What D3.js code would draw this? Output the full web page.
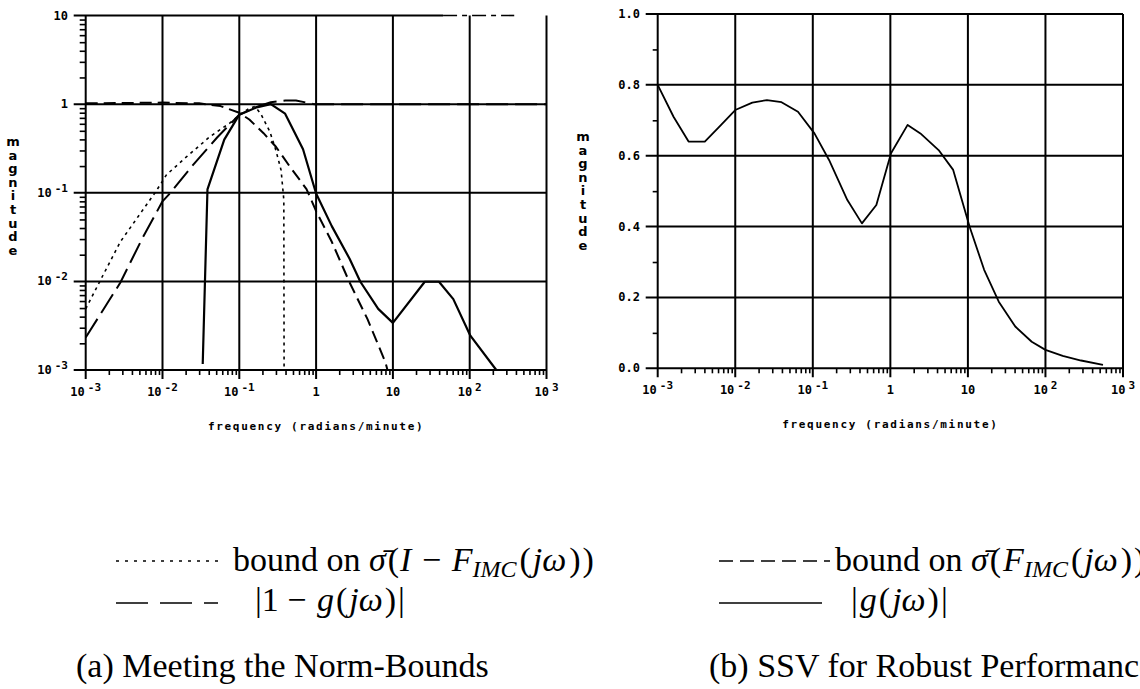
<!DOCTYPE html>
<html>
<head>
<meta charset="utf-8">
<script src="https://cdn.jsdelivr.net/npm/d3@7"></script>
<style>
  html, body { margin: 0; padding: 0; background: #fff; }
  svg { display: block; }
</style>
</head>
<body>
<svg id="fig" width="1140" height="689"></svg>
<script>
// ---------------- data ----------------
const freqDecades = [1e-3, 1e-2, 1e-1, 1, 10, 100, 1000];
const freqExponents = [-3, -2, -1, 0, 1, 2, 3];
const magDecades = [1e-3, 1e-2, 1e-1, 1, 10];
const magExponents = [-3, -2, -1, 0, 1];
const ssvTicks = [0, 0.2, 0.4, 0.6, 0.8, 1.0];
const ssvTickLabels = ["0.0", "0.2", "0.4", "0.6", "0.8", "1.0"];
const ssvMinorTicks = [0.1, 0.3, 0.5, 0.7, 0.9];

// (a) bound on sigma-bar(I - F_IMC)  -- dotted
const boundIF_freq = [0.001, 0.00166, 0.00283, 0.0054, 0.008, 0.0113, 0.0206, 0.0415, 0.075, 0.102, 0.13, 0.16, 0.19, 0.226, 0.25, 0.30, 0.35, 0.38, 0.383];
const boundIF_mag  = [0.0049, 0.0115, 0.028, 0.062, 0.10, 0.16, 0.255, 0.43, 0.61, 0.76, 0.88, 0.94, 0.78, 0.58, 0.49, 0.30, 0.18, 0.083, 0.001];

// (a) |1 - g(jw)|  -- long dashes
const oneMinusG_freq = [0.001, 0.00283, 0.0054, 0.01, 0.0127, 0.0243, 0.0514, 0.1, 0.168, 0.257, 0.4, 0.546, 0.93, 1000];
const oneMinusG_mag  = [0.00233, 0.0097, 0.03, 0.08, 0.1, 0.2, 0.42, 0.76, 0.93, 1.05, 1.1, 1.1, 1.0, 1.0];

// (a) bound on sigma-bar(F_IMC)  -- dashes
const boundF_freq = [0.001, 0.003, 0.01, 0.03, 0.057, 0.1, 0.135, 0.207, 0.30, 0.45, 0.75, 1.0, 1.6, 2.73, 4.67, 8.0, 8.5];
const boundF_mag  = [1.02, 1.03, 1.04, 1.02, 0.95, 0.8, 0.67, 0.47, 0.33, 0.2, 0.11, 0.062, 0.028, 0.0097, 0.00375, 0.00122, 0.001];

// (a) |g(jw)|  -- solid
const g_freq = [0.0334, 0.0385, 0.0637, 0.1, 0.168, 0.257, 0.395, 0.676, 1.0, 1.6, 2.73, 3.77, 6.44, 10, 26, 39.8, 61.2, 102, 222];
const g_mag  = [0.00117, 0.109, 0.398, 0.76, 0.92, 1.0, 0.78, 0.31, 0.098, 0.042, 0.018, 0.0099, 0.0049, 0.0034, 0.0099, 0.0099, 0.0063, 0.00244, 0.001];

// (a) upper rule at 10: solid part and broken part
const topRuleSolid = [1e-3, 45];
const topRuleBroken = [45, 380];

// (b) SSV for robust performance
const ssv_freq = [0.001, 0.0016, 0.0025, 0.00405, 0.00625, 0.01, 0.0166, 0.0256, 0.0395, 0.0644, 0.105, 0.162, 0.279, 0.43, 0.66, 1.02, 1.67, 2.44, 4.19, 6.46, 10.5, 16.2, 25, 40.8, 66.5, 100, 167, 288, 552];
const ssv_mag  = [0.80, 0.71, 0.64, 0.64, 0.682, 0.729, 0.75, 0.757, 0.751, 0.724, 0.663, 0.588, 0.475, 0.409, 0.461, 0.607, 0.687, 0.663, 0.616, 0.56, 0.40, 0.278, 0.188, 0.118, 0.075, 0.052, 0.035, 0.022, 0.0094];

// ---------------- layout ----------------
const svg = d3.select("#fig");
const plotFont = "'DejaVu Sans Mono', monospace";
const serif = "'Liberation Serif', 'DejaVu Serif', serif";

const A = {
  x: d3.scaleLog().domain([1e-3, 1e3]).range([85.7, 546.5]),
  y: d3.scaleLog().domain([1e-3, 10]).range([370, 15.5])
};
const B = {
  x: d3.scaleLog().domain([1e-3, 1e3]).range([657.7, 1123]),
  y: d3.scaleLinear().domain([0, 1]).range([368.3, 14])
};

const minorFreq = [];
for (let e = -3; e < 3; e++) for (let k = 2; k <= 9; k++) minorFreq.push(k * Math.pow(10, e));
const minorMag = [];
for (let e = -3; e < 1; e++) for (let k = 2; k <= 9; k++) minorMag.push(k * Math.pow(10, e));

function powerLabel(sel, exp, anchor) {
  const t = sel.attr("text-anchor", anchor);
  if (exp === 0) { t.append("tspan").text("1"); return; }
  if (exp === 1) { t.append("tspan").text("10"); return; }
  t.append("tspan").text("10");
  t.append("tspan").attr("dx", 3).attr("dy", -5).attr("font-size", 11).text(exp < 0 ? "-" + (-exp) : String(exp));
}

function freqAxis(g, P, yBottom, yTop) {
  // decade grid verticals (extend below axis as major ticks)
  g.append("g").selectAll("line").data(freqDecades).join("line")
    .attr("x1", d => P.x(d)).attr("x2", d => P.x(d))
    .attr("y1", yTop).attr("y2", yBottom + 9)
    .attr("stroke", "#000").attr("stroke-width", 2);
  // minor ticks under the axis
  const minor = g.append("g").attr("transform", `translate(0,${yBottom})`)
    .call(d3.axisBottom(P.x).tickValues(minorFreq).tickSize(5).tickFormat(""));
  minor.select(".domain").remove();
  minor.selectAll(".tick line").attr("stroke", "#000").attr("stroke-width", 1.6);
  // labels
  g.append("g").selectAll("text").data(freqDecades).join("text")
    .attr("x", d => P.x(d)).attr("y", yBottom + 26)
    .attr("font-family", plotFont).attr("font-weight", "bold").attr("font-size", 12)
    .each(function(d, i) { powerLabel(d3.select(this), freqExponents[i], "middle"); });
  // title
  const xMid = (P.x.range()[0] + P.x.range()[1]) / 2;
  g.append("text").attr("x", xMid).attr("y", yBottom + 60)
    .attr("text-anchor", "middle").attr("font-family", plotFont).attr("font-weight", "bold")
    .attr("font-size", 11).attr("letter-spacing", 1.7)
    .text("frequency (radians/minute)");
}

function stackedLabel(g, x, yStart, word) {
  g.append("g").selectAll("text").data(word.split("")).join("text")
    .attr("x", x).attr("y", (d, i) => yStart + i * 13.6)
    .attr("text-anchor", "middle").attr("font-family", "'DejaVu Sans', sans-serif")
    .attr("font-weight", "bold").attr("font-size", 13).text(d => d);
}

// ---------------- panel (a) ----------------
const ga = svg.append("g");
const ax0 = A.x.range()[0], ax1 = A.x.range()[1];
// horizontal decade grid (rule at 10 handled separately)
ga.append("g").selectAll("line").data(magDecades.filter(d => d < 10)).join("line")
  .attr("x1", ax0 - 12).attr("x2", ax1)
  .attr("y1", d => A.y(d)).attr("y2", d => A.y(d))
  .attr("stroke", "#000").attr("stroke-width", 2);
ga.append("line").attr("x1", ax0 - 12).attr("x2", A.x(topRuleSolid[1]))
  .attr("y1", A.y(10)).attr("y2", A.y(10)).attr("stroke", "#000").attr("stroke-width", 2);
ga.append("line").attr("x1", A.x(topRuleBroken[0])).attr("x2", A.x(topRuleBroken[1]))
  .attr("y1", A.y(10)).attr("y2", A.y(10)).attr("stroke", "#000").attr("stroke-width", 1.6)
  .attr("stroke-dasharray", "14,5,5,5");
freqAxis(ga, A, A.y(1e-3), A.y(10));
const aMinor = ga.append("g").attr("transform", `translate(${ax0},0)`)
  .call(d3.axisLeft(A.y).tickValues(minorMag).tickSize(6).tickFormat(""));
aMinor.select(".domain").remove();
aMinor.selectAll(".tick line").attr("stroke", "#000").attr("stroke-width", 1.6);
ga.append("g").selectAll("text").data(magDecades).join("text")
  .attr("x", 68).attr("y", d => A.y(d) + 4)
  .attr("font-family", plotFont).attr("font-weight", "bold").attr("font-size", 12)
  .each(function(d, i) { powerLabel(d3.select(this), magExponents[i], "end"); });
stackedLabel(ga, 13, 146, "magnitude");

const lineA = (fs, ms) => d3.line().x((d, i) => A.x(fs[i])).y((d, i) => A.y(ms[i]))(fs);
const curvesA = ga.append("g").attr("fill", "none").attr("stroke", "#000")
  .attr("stroke-linejoin", "round");
curvesA.append("path").attr("d", lineA(boundIF_freq, boundIF_mag))
  .attr("stroke-width", 1.6).attr("stroke-dasharray", "3,4");
curvesA.append("path").attr("d", lineA(oneMinusG_freq, oneMinusG_mag))
  .attr("stroke-width", 2).attr("stroke-dasharray", "22,7");
curvesA.append("path").attr("d", lineA(boundF_freq, boundF_mag))
  .attr("stroke-width", 2).attr("stroke-dasharray", "12,6");
curvesA.append("path").attr("d", lineA(g_freq, g_mag))
  .attr("stroke-width", 2.2);

// ---------------- panel (b) ----------------
const gb = svg.append("g");
const bx0 = B.x.range()[0], bx1 = B.x.range()[1];
gb.append("g").selectAll("line").data(ssvTicks).join("line")
  .attr("x1", bx0 - 12).attr("x2", bx1)
  .attr("y1", d => B.y(d)).attr("y2", d => B.y(d))
  .attr("stroke", "#000").attr("stroke-width", 2);
freqAxis(gb, B, B.y(0), B.y(1));
const bMinor = gb.append("g").attr("transform", `translate(${bx0},0)`)
  .call(d3.axisLeft(B.y).tickValues(ssvMinorTicks).tickSize(5).tickFormat(""));
bMinor.select(".domain").remove();
bMinor.selectAll(".tick line").attr("stroke", "#000").attr("stroke-width", 1.6);
gb.append("g").selectAll("text").data(ssvTicks).join("text")
  .attr("x", 640).attr("y", d => B.y(d) + 4)
  .attr("text-anchor", "end").attr("font-family", plotFont).attr("font-weight", "bold")
  .attr("font-size", 12).text((d, i) => ssvTickLabels[i]);
stackedLabel(gb, 583, 141, "magnitude");

gb.append("path")
  .attr("d", d3.line().x((d, i) => B.x(ssv_freq[i])).y((d, i) => B.y(ssv_mag[i]))(ssv_freq))
  .attr("fill", "none").attr("stroke", "#000").attr("stroke-width", 1.8)
  .attr("stroke-linejoin", "round");

// ---------------- legend and captions ----------------
const lg = svg.append("g").attr("font-family", serif).attr("font-size", 34).attr("fill", "#000");
function sample(x1, x2, y, dash, w) {
  svg.append("line").attr("x1", x1).attr("x2", x2).attr("y1", y).attr("y2", y)
    .attr("stroke", "#000").attr("stroke-width", w).attr("stroke-dasharray", dash);
}
sample(116, 222, 561, "3,6", 1.4);
sample(116, 218, 603, "32,12", 1.6);
sample(719, 830, 561, "14,7", 1.6);
sample(719, 822, 603, null, 1.6);

function mathText(x, y, parts) {
  const t = lg.append("text").attr("x", x).attr("y", y);
  parts.forEach(p => {
    const s = t.append("tspan").text(p.t);
    if (p.i) s.attr("font-style", "italic");
    if (p.fs) s.attr("font-size", p.fs);
    if (p.dy) s.attr("dy", p.dy);
    if (p.dx) s.attr("dx", p.dx);
  });
  return t;
}
mathText(233, 571, [
  {t: "bound on "}, {t: "σ̄", i: 1}, {t: "(", dx: 2}, {t: "I", i: 1, dx: 1}, {t: " − ", dx: 2}, {t: "F", i: 1, dx: 2},
  {t: "IMC", i: 1, fs: 24, dy: 6}, {t: "(", dy: -6, dx: 3}, {t: "jω", i: 1, dx: 2}, {t: ")", dx: 3}, {t: ")", dx: 2}
]);
mathText(835, 571, [
  {t: "bound on "}, {t: "σ̄", i: 1}, {t: "(", dx: 2}, {t: "F", i: 1, dx: 2},
  {t: "IMC", i: 1, fs: 24, dy: 6}, {t: "(", dy: -6, dx: 3}, {t: "jω", i: 1, dx: 2}, {t: ")", dx: 3}, {t: ")", dx: 2}
]);
mathText(255, 611, [{t: "|1 − "}, {t: "g", i: 1, dx: 2}, {t: "(", dx: 2}, {t: "jω", i: 1, dx: 2}, {t: ")", dx: 2}, {t: "|", dx: 2}]);
mathText(851, 611, [{t: "|"}, {t: "g", i: 1, dx: 2}, {t: "(", dx: 2}, {t: "jω", i: 1, dx: 2}, {t: ")", dx: 2}, {t: "|", dx: 2}]);
lg.append("text").attr("x", 76).attr("y", 677).text("(a) Meeting the Norm-Bounds");
lg.append("text").attr("x", 709).attr("y", 677).text("(b) SSV for Robust Performance");
</script>
</body>
</html>
